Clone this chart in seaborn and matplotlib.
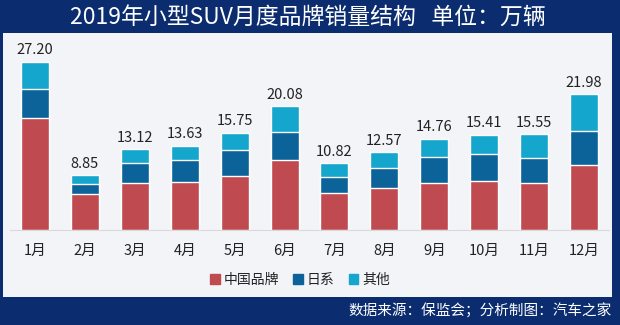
import matplotlib
matplotlib.use("Agg")
import matplotlib.pyplot as plt
import matplotlib.patches as mpatches
import seaborn as sns
import pandas as pd
import numpy as np

months = ["1月", "2月", "3月", "4月", "5月", "6月", "7月", "8月", "9月", "10月", "11月", "12月"]
totals = [27.20, 8.85, 13.12, 13.63, 15.75, 20.08, 10.82, 12.57, 14.76, 15.41, 15.55, 21.98]
china = [18.15, 5.77, 7.65, 7.70, 8.78, 11.31, 6.03, 6.84, 7.65, 7.92, 7.65, 10.50]
japan = [4.63, 1.67, 3.23, 3.61, 4.09, 4.47, 2.58, 3.18, 4.15, 4.31, 3.99, 5.44]
other = [4.42, 1.41, 2.24, 2.32, 2.88, 4.30, 2.21, 2.55, 2.96, 3.18, 3.91, 6.04]
series_names = ["中国品牌", "日系", "其他"]

title = "2019年小型SUV月度品牌销量结构   单位：万辆"
source = "数据来源：保监会；分析制图：汽车之家"

sns.set_theme(style="white")
plt.rcParams["font.family"] = ["Noto Sans CJK SC", "DejaVu Sans"]

c_red = "#BF4B51"
c_blue = "#0B639A"
c_cyan = "#14A6CC"
c_bg = "#0B2C6F"
c_panel = "#F3F4F7"

df = pd.DataFrame({"month": months, "china": china, "japan": japan, "other": other, "total": totals})
df["lvl2"] = df["china"] + df["japan"]
df["lvl3"] = df["lvl2"] + df["other"]

fig = plt.figure(figsize=(6.2, 3.25), dpi=100)
fig.patch.set_facecolor(c_bg)
panel = mpatches.Rectangle((3 / 620, 28 / 325), 609 / 620, 264 / 325,
                           transform=fig.transFigure, facecolor=c_panel,
                           edgecolor="none", zorder=-10)
fig.patches.append(panel)

ax = fig.add_axes([10 / 620, 95 / 325, 599 / 620, 190 / 325])
ax.set_zorder(5)
ax.set_facecolor("none")

sns.barplot(data=df, x="month", y="lvl3", order=months, color=c_cyan, width=0.56,
            saturation=1, ax=ax, errorbar=None)
sns.barplot(data=df, x="month", y="lvl2", order=months, color=c_blue, width=0.56,
            saturation=1, ax=ax, errorbar=None)
sns.barplot(data=df, x="month", y="china", order=months, color=c_red, width=0.56,
            saturation=1, ax=ax, errorbar=None)

ax.bar_label(ax.containers[0], labels=[f"{v:.2f}" for v in totals], padding=3,
             fontsize=10.5, color="#222222")

ax.set_xlim(-0.5, 11.5)
ax.set_ylim(0, 190 / 6.19)
ax.set_xlabel("")
ax.set_ylabel("")
ax.set_yticks([])
for s in ["top", "right", "left"]:
    ax.spines[s].set_visible(False)
ax.spines["bottom"].set_color("#D9D9D9")
ax.spines["bottom"].set_linewidth(0.8)
ax.tick_params(axis="x", length=0, pad=10, labelsize=10.5, labelcolor="#222222")

handles = [mpatches.Patch(color=c, label=n) for c, n in zip([c_red, c_blue, c_cyan], series_names)]
leg = fig.legend(handles=handles, loc="center", bbox_to_anchor=(300 / 620, 1 - 280 / 325),
                 ncol=3, frameon=False, handlelength=0.7, handleheight=0.7,
                 columnspacing=1.0, handletextpad=0.3, fontsize=10, labelcolor="#222222")
leg.set_zorder(6)

fig.text(308 / 620, 1 - 17 / 325, title, ha="center", va="center", color="white", fontsize=16.5)
fig.text(612 / 620, 1 - 311 / 325, source, ha="right", va="center", color="white", fontsize=10.5)

fig.savefig("out.png", dpi=100, facecolor=c_bg)
